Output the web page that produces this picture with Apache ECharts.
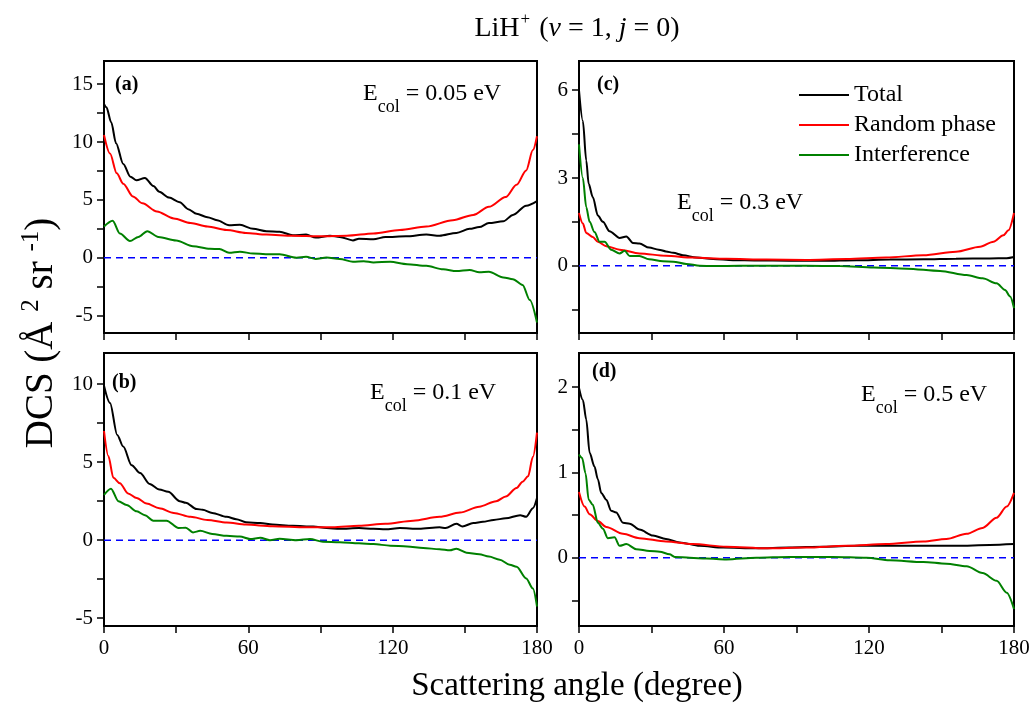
<!DOCTYPE html>
<html>
<head>
<meta charset="utf-8">
<script src="https://cdn.jsdelivr.net/npm/echarts@6/dist/echarts.min.js"></script>
<style>
html, body { margin: 0; padding: 0; background: #fff; }
#chart { width: 1034px; height: 709px; }
</style>
</head>
<body>
<div id="chart"></div>
<script>
// Differential cross sections, [scattering angle (deg), DCS (Å² sr⁻¹)]
// (a) Ecol = 0.05 eV
const totalA = [[0,13.3],[1,13.0],[3,11.7],[5,9.9],[8,8.1],[11,7.0],[13.5,6.7],[17,6.9],[20.5,6.2],[23,5.7],[27,5.2],[31.5,4.8],[35,4.2],[38.5,3.8],[43,3.5],[47,3.25],[52,2.8],[56.5,2.85],[62,2.5],[67.5,2.3],[73,2.25],[78.5,1.95],[84,2.0],[88,1.75],[94,1.9],[98,1.8],[103.5,1.5],[106,1.65],[112,1.6],[117,1.8],[125.5,1.85],[134,2.0],[139.5,1.9],[146.5,2.15],[152,2.5],[156,2.65],[160,3.0],[166,3.15],[170,3.7],[175.5,4.5],[180,4.9]];
const randomA = [[0,10.6],[2.5,9.0],[5.3,7.3],[8,6.4],[12,5.3],[16,4.7],[22,4.0],[29,3.4],[36,3.0],[43,2.7],[51,2.4],[59,2.15],[67.5,2.0],[78.5,1.9],[90,1.85],[101,1.9],[112,2.1],[123,2.4],[134,2.7],[145,3.25],[153.5,3.7],[160,4.4],[167,5.25],[171.5,6.3],[175.5,7.55],[178.3,9.3],[180,10.5]];
const interfA = [[0,2.7],[3.6,3.2],[6.6,2.1],[10.8,1.45],[14.3,1.8],[18,2.3],[22.6,1.8],[30,1.5],[37,1.0],[44,0.78],[48,0.75],[52,0.43],[56.5,0.52],[62,0.37],[70,0.3],[73,0.3],[80,0.0],[84,0.08],[88,-0.1],[92.5,0.03],[98,-0.1],[103.5,-0.35],[108,-0.3],[112,-0.4],[119,-0.35],[126,-0.55],[134,-0.7],[141,-1.0],[146.5,-1.15],[152,-1.05],[156,-1.25],[160,-1.2],[166,-1.7],[170,-1.85],[174,-2.35],[177,-3.65],[180,-5.6]];

// (b) Ecol = 0.1 eV
const totalB = [[0,9.9],[2.5,8.8],[5.5,6.75],[8,6.0],[11.5,4.8],[15,4.3],[19,3.6],[23,3.25],[26.7,3.1],[31.5,2.5],[34,2.4],[38.5,2.0],[41,1.95],[45,1.75],[51,1.5],[55,1.35],[59,1.15],[65,1.1],[70,1.0],[78.5,0.92],[87,0.88],[92.5,0.78],[98,0.73],[106,0.78],[112,0.73],[117,0.7],[123,0.78],[131,0.73],[139.5,0.83],[142,0.78],[146.5,1.05],[149,0.88],[153.5,1.1],[157.5,1.18],[162,1.3],[167,1.4],[173,1.6],[175.5,1.5],[178.3,2.05],[180,2.7]];
const randomB = [[0,7.0],[1.8,5.4],[3.9,4.0],[6.6,3.65],[10,3.0],[13.6,2.7],[17.7,2.35],[23,2.05],[29,1.75],[36,1.5],[43,1.3],[51,1.13],[59,1.0],[70,0.9],[84,0.83],[95,0.83],[106,0.92],[117,1.05],[128.5,1.25],[139.5,1.5],[148,1.77],[156,2.15],[163,2.5],[167,2.8],[171.5,3.35],[174,3.75],[176.3,4.1],[178.3,5.35],[180,6.9]];
const interfB = [[0,2.9],[2.9,3.3],[6,2.5],[9.4,2.25],[13.6,1.85],[17,1.6],[20.5,1.25],[26,1.25],[31,0.78],[34,0.8],[37,0.5],[40,0.6],[45,0.4],[51,0.28],[56.5,0.23],[60.7,0.08],[65,0.15],[69,0.0],[73,0.1],[80,0.0],[85.6,0.08],[91,-0.1],[98,-0.13],[106,-0.2],[112,-0.25],[119,-0.35],[126,-0.4],[132.7,-0.5],[139.5,-0.58],[143.8,-0.65],[146.5,-0.55],[150.7,-0.8],[156,-0.9],[160,-1.05],[164.5,-1.25],[168.7,-1.58],[171.5,-1.7],[175.5,-2.45],[178.3,-3.1],[180,-4.25]];

// (c) Ecol = 0.3 eV
const totalC = [[0,6.0],[1.6,4.95],[3,3.6],[4,2.8],[5.7,2.35],[7.8,1.72],[9.9,1.5],[12.6,1.18],[16.8,0.95],[19.6,1.0],[22.3,0.78],[25,0.76],[29,0.62],[33,0.55],[36,0.49],[39,0.44],[43,0.36],[48.6,0.28],[55.5,0.23],[63.7,0.19],[73.4,0.18],[87,0.17],[101,0.17],[115,0.19],[128.6,0.21],[142.5,0.22],[156,0.24],[170,0.25],[177,0.26],[180,0.3]];
const randomC = [[0,1.8],[1.6,1.44],[3,1.12],[5.7,0.98],[7.8,0.82],[11.3,0.67],[16.8,0.55],[25,0.42],[36,0.34],[47,0.28],[61,0.24],[77.6,0.21],[94,0.2],[110.7,0.23],[127,0.28],[142.5,0.36],[156,0.48],[166,0.65],[171.5,0.82],[175.6,1.04],[177.7,1.21],[180,1.8]];
const interfC = [[0,4.15],[1.6,3.0],[3,2.0],[4.4,1.5],[6.4,1.15],[8.5,0.82],[10.6,0.82],[13.3,0.55],[16.8,0.42],[18.9,0.51],[21,0.33],[25,0.33],[29,0.22],[34.7,0.15],[39,0.14],[44.4,0.06],[50,0.0],[55.5,-0.01],[66.5,0.0],[80,0.0],[94,0.0],[108,-0.01],[122,-0.06],[135.6,-0.1],[149.4,-0.18],[160.4,-0.32],[167,-0.43],[172.8,-0.6],[176.3,-0.83],[178.4,-1.05],[180,-1.45]];

// (d) Ecol = 0.5 eV
const totalD = [[0,1.99],[1.6,1.85],[3,1.62],[4.4,1.23],[6.4,1.07],[7.8,0.92],[9.2,0.76],[11.3,0.68],[13.3,0.55],[15.4,0.53],[18.2,0.41],[21,0.4],[25,0.33],[30.6,0.26],[36,0.22],[41.6,0.18],[50,0.14],[59.6,0.12],[73.4,0.11],[87,0.12],[101,0.13],[115,0.14],[128.6,0.14],[142.5,0.14],[156,0.14],[170,0.15],[180,0.16]];
const randomD = [[0,0.77],[2.3,0.6],[4.4,0.51],[7.8,0.43],[11.3,0.36],[18.2,0.28],[25,0.23],[36,0.19],[47,0.16],[61,0.13],[77.6,0.11],[94,0.12],[110.7,0.14],[127,0.16],[142.5,0.19],[152,0.22],[160.4,0.28],[167,0.35],[172.8,0.47],[177,0.6],[180,0.76]];
const interfD = [[0,1.21],[1.3,1.17],[2.7,0.99],[4,0.68],[5.7,0.62],[7.8,0.41],[9.9,0.34],[11.9,0.23],[14.7,0.24],[16.8,0.14],[19.6,0.16],[23.7,0.1],[29.2,0.08],[33.4,0.07],[37.5,0.04],[39.6,0.01],[45.8,0.0],[52.7,-0.01],[61,-0.02],[73.4,0.0],[87,0.01],[105,0.01],[119,0.0],[128.6,-0.03],[142.5,-0.05],[152,-0.07],[160.4,-0.1],[167,-0.18],[172.8,-0.27],[177,-0.41],[180,-0.6]];

const zeroLine = [[0, 0], [180, 0]];

// Axis ranges and tick marks for each panel
const yRanges = [[-6.5, 17], [-5.5, 12], [-2.3, 7], [-0.8, 2.4]];
const yTicks = [
  [-5, -2.5, 0, 2.5, 5, 7.5, 10, 12.5, 15],
  [-5, -2.5, 0, 2.5, 5, 7.5, 10],
  [-1.5, 0, 1.5, 3, 4.5, 6],
  [-0.5, 0, 0.5, 1, 1.5, 2]
];
const yLabels = [
  [-5, 0, 5, 10, 15],
  [-5, 0, 5, 10],
  [0, 3, 6],
  [0, 1, 2]
];
const xLabels = [0, 60, 120, 180];
const panelTags = ['(a)', '(b)', '(c)', '(d)'];
const energies = ['0.05', '0.1', '0.3', '0.5'];
const seriesNames = ['Total', 'Random phase', 'Interference'];

const panels = [
  [totalA, randomA, interfA],
  [totalB, randomB, interfB],
  [totalC, randomC, interfC],
  [totalD, randomD, interfD]
];

const FONT = "'Liberation Serif', 'Times New Roman', serif";
const colors = ['#000000', '#ff0000', '#008000'];

const grids = [
  { left: 104, top: 61, width: 433, height: 272 },
  { left: 104, top: 353, width: 433, height: 273 },
  { left: 579, top: 61, width: 435, height: 272 },
  { left: 579, top: 353, width: 435, height: 273 }
];

const chart = echarts.init(document.getElementById('chart'), null, { renderer: 'canvas' });

const xAxes = grids.map((g, i) => ({
  type: 'value', gridIndex: i, min: 0, max: 180, interval: 30,
  axisLine: { show: true, onZero: false, lineStyle: { color: '#000', width: 2 } },
  axisTick: { show: true, inside: false, length: 7, lineStyle: { color: '#000', width: 1.5 } },
  axisLabel: {
    show: i === 1 || i === 3, customValues: xLabels, margin: 12,
    color: '#000', fontSize: 21, fontFamily: FONT
  },
  splitLine: { show: false }
}));

const yAxes = grids.map((g, i) => ({
  type: 'value', gridIndex: i, min: yRanges[i][0], max: yRanges[i][1],
  axisLine: { show: true, onZero: false, lineStyle: { color: '#000', width: 2 } },
  axisTick: { show: true, inside: false, length: 7, customValues: yTicks[i], lineStyle: { color: '#000', width: 1.5 } },
  axisLabel: {
    show: true, customValues: yLabels[i], margin: 11,
    color: '#000', fontSize: 21, fontFamily: FONT
  },
  splitLine: { show: false }
}));

const series = [];
panels.forEach((p, i) => {
  series.push({
    type: 'line', name: 'zero', xAxisIndex: i, yAxisIndex: i, data: zeroLine,
    symbol: 'none', silent: true, z: 1,
    lineStyle: { color: '#0000ff', width: 1.5, type: [7, 5] }
  });
  p.forEach((d, k) => {
    series.push({
      type: 'line', name: seriesNames[k], xAxisIndex: i, yAxisIndex: i, data: d,
      symbol: 'none', smooth: 0.3, smoothMonotone: 'x', z: 2 + k,
      lineStyle: { color: colors[k], width: 2 }, itemStyle: { color: colors[k] }
    });
  });
});

const graphic = [];
// Figure title
graphic.push({
  type: 'text', x: 577, y: 27, z: 10,
  style: {
    text: '{n|LiH}{sup|+}{n| (}{i|v}{n| = 1, }{i|j}{n| = 0)}',
    fill: '#000',
    align: 'center', verticalAlign: 'middle', textAlign: 'center', textVerticalAlign: 'middle',
    rich: {
      n: { fontSize: 28, fontFamily: FONT, verticalAlign: 'bottom' },
      i: { fontSize: 28, fontFamily: FONT, fontStyle: 'italic', verticalAlign: 'bottom' },
      sup: { fontSize: 17, fontFamily: FONT, verticalAlign: 'top', padding: [0, 2, 14, 1] }
    }
  }
});
// Shared axis titles
graphic.push({
  type: 'text', x: 577, y: 686, z: 10,
  style: {
    text: 'Scattering angle (degree)', fill: '#000', fontSize: 33, fontFamily: FONT,
    align: 'center', verticalAlign: 'middle', textAlign: 'center', textVerticalAlign: 'middle'
  }
});
graphic.push({
  type: 'text', x: 40, y: 333, rotation: Math.PI / 2, z: 10,
  style: {
    text: '{n|DCS (Å }{sup|2}{n| sr }{sup|-1}{n|)}', fill: '#000',
    align: 'center', verticalAlign: 'middle', textAlign: 'center', textVerticalAlign: 'middle',
    rich: {
      n: { fontSize: 39, fontFamily: FONT, verticalAlign: 'bottom' },
      sup: { fontSize: 25, fontFamily: FONT, verticalAlign: 'top', padding: [0, 0, 17, 0] }
    }
  }
});
// Panel tags and collision energies
const tagPos = [[115, 85], [112, 383], [597, 85], [592, 372]];
const ePos = [[363, 99], [370, 398], [677, 208], [861, 400]];
panelTags.forEach((t, i) => {
  graphic.push({
    type: 'text', x: tagPos[i][0], y: tagPos[i][1], z: 10,
    style: {
      text: t, fill: '#000', fontSize: 20, fontWeight: 'bold', fontFamily: FONT,
      verticalAlign: 'middle', textVerticalAlign: 'middle'
    }
  });
  graphic.push({
    type: 'text', x: ePos[i][0], y: ePos[i][1], z: 10,
    style: {
      text: '{n|E}{sub|col}{n| = ' + energies[i] + ' eV}', fill: '#000',
      verticalAlign: 'middle', textVerticalAlign: 'middle',
      rich: {
        n: { fontSize: 24, fontFamily: FONT, verticalAlign: 'top' },
        sub: { fontSize: 18, fontFamily: FONT, verticalAlign: 'top', padding: [16, 0, 0, 0] }
      }
    }
  });
});

chart.setOption({
  backgroundColor: '#fff',
  animation: false,
  grid: grids.map(g => Object.assign({ show: true, borderColor: '#000', borderWidth: 2, backgroundColor: 'transparent' }, g)),
  xAxis: xAxes,
  yAxis: yAxes,
  legend: {
    data: seriesNames, orient: 'vertical', left: 794, top: 78,
    icon: 'rect', itemWidth: 50, itemHeight: 2, itemGap: 6,
    textStyle: { color: '#000', fontSize: 24, fontFamily: FONT, padding: [0, 0, 0, 0] },
    selectedMode: false
  },
  series: series,
  graphic: graphic
});
</script>
</body>
</html>
